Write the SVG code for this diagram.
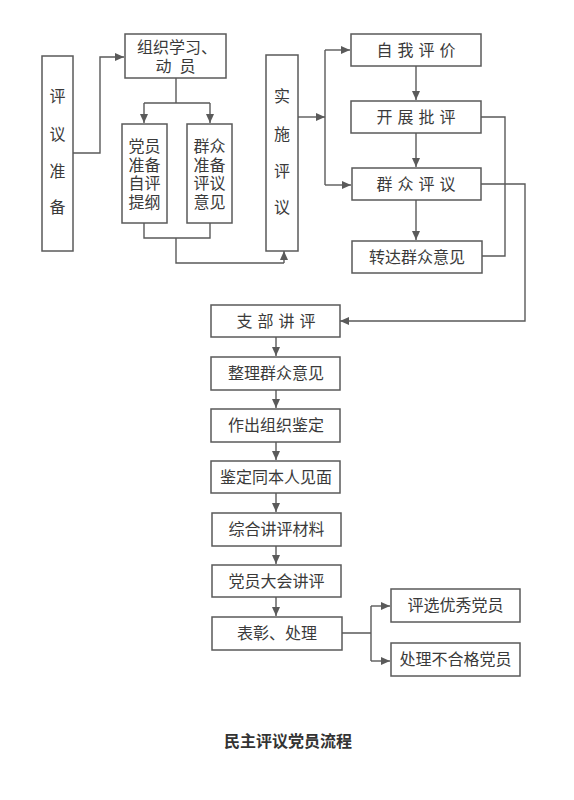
<svg xmlns="http://www.w3.org/2000/svg" width="574" height="800" viewBox="0 0 574 800">
<style>
.box{fill:#fff;stroke:#5a5a5a;stroke-width:1.5}
.t{font-family:"Liberation Serif","Noto Sans CJK SC",serif;font-size:16px;fill:#3a3a3a;text-anchor:middle}
.s{letter-spacing:5px}
.c{fill:none;stroke:#5a5a5a;stroke-width:1.4}
.title{font-family:"Noto Sans CJK SC",sans-serif;font-size:16px;font-weight:bold;fill:#333;text-anchor:middle}
</style>
<defs>
<marker id="ah" markerWidth="9" markerHeight="8" refX="9" refY="4" orient="auto" markerUnits="userSpaceOnUse">
<path d="M0,0 L9,4 L0,8 Z" fill="#5a5a5a"/>
</marker>
</defs>
<rect width="574" height="800" fill="#fff"/>
<g id="connectors">
<path class="c" d="M73,153 H100 V57 H124" marker-end="url(#ah)"/>
<path class="c" d="M176,78 V103 M144,103 H210"/>
<path class="c" d="M144,103 V123" marker-end="url(#ah)"/>
<path class="c" d="M210,103 V123" marker-end="url(#ah)"/>
<path class="c" d="M144,223 V238 H210 V223 M176,238 V263 H284"/>
<path class="c" d="M284,263 V251" marker-end="url(#ah)"/>
<path class="c" d="M298,117 H325" marker-end="url(#ah)"/>
<path class="c" d="M325,50 V185"/>
<path class="c" d="M325,50 H350" marker-end="url(#ah)"/>
<path class="c" d="M325,185 H351" marker-end="url(#ah)"/>
<path class="c" d="M416,66 V100" marker-end="url(#ah)"/>
<path class="c" d="M416,133 V167" marker-end="url(#ah)"/>
<path class="c" d="M416,200 V240" marker-end="url(#ah)"/>
<path class="c" d="M481,117 H505 V256 H482"/>
<path class="c" d="M481,184 H525 V321 H340" marker-end="url(#ah)"/>
<path class="c" d="M276,337 V356" marker-end="url(#ah)"/>
<path class="c" d="M276,390 V408" marker-end="url(#ah)"/>
<path class="c" d="M276,442 V460" marker-end="url(#ah)"/>
<path class="c" d="M276,493 V512" marker-end="url(#ah)"/>
<path class="c" d="M276,546 V564" marker-end="url(#ah)"/>
<path class="c" d="M276,597 V616" marker-end="url(#ah)"/>
<path class="c" d="M342,633 H371 M371,606 V661"/>
<path class="c" d="M371,606 H390" marker-end="url(#ah)"/>
<path class="c" d="M371,661 H390" marker-end="url(#ah)"/>
</g>
<g id="n-pingyizhunbei">
<rect class="box" x="42" y="56" width="31" height="195"/>
<text class="t" x="57.5" y="102">评</text>
<text class="t" x="57.5" y="140">议</text>
<text class="t" x="57.5" y="177">准</text>
<text class="t" x="57.5" y="213">备</text>
</g>
<g id="n-zuzhixuexi">
<rect class="box" x="125" y="34" width="101" height="44"/>
<text class="t" x="177" y="53">组织学习、</text>
<text class="t" x="175.5" y="72" xml:space="preserve">动  员</text>
</g>
<g id="n-dangyuan">
<rect class="box" x="122" y="124" width="45" height="99"/>
<text class="t" x="144.5" y="152">党员</text>
<text class="t" x="144.5" y="171">准备</text>
<text class="t" x="144.5" y="189">自评</text>
<text class="t" x="144.5" y="208">提纲</text>
</g>
<g id="n-qunzhong">
<rect class="box" x="187" y="124" width="45" height="99"/>
<text class="t" x="209.5" y="152">群众</text>
<text class="t" x="209.5" y="171">准备</text>
<text class="t" x="209.5" y="189">评议</text>
<text class="t" x="209.5" y="208">意见</text>
</g>
<g id="n-shishipingyi">
<rect class="box" x="266" y="55" width="32" height="196"/>
<text class="t" x="282" y="102">实</text>
<text class="t" x="282" y="140">施</text>
<text class="t" x="282" y="177">评</text>
<text class="t" x="282" y="213">议</text>
</g>
<g id="n-ziwopingjia">
<rect class="box" x="351" y="34" width="130" height="32"/>
<text class="t s" x="418.5" y="56">自我评价</text>
</g>
<g id="n-kaizhanpiping">
<rect class="box" x="351" y="101" width="130" height="32"/>
<text class="t s" x="418.5" y="123">开展批评</text>
</g>
<g id="n-qunzhongpingyi">
<rect class="box" x="352" y="168" width="129" height="32"/>
<text class="t s" x="418.5" y="190">群众评议</text>
</g>
<g id="n-zhuanda">
<rect class="box" x="352" y="241" width="130" height="32"/>
<text class="t" x="417" y="263">转达群众意见</text>
</g>
<g id="n-zhibu">
<rect class="box" x="211" y="305" width="129" height="32"/>
<text class="t s" x="278.5" y="327">支部讲评</text>
</g>
<g id="n-zhengli">
<rect class="box" x="211" y="357" width="129" height="33"/>
<text class="t" x="276" y="379">整理群众意见</text>
</g>
<g id="n-zuochu">
<rect class="box" x="211" y="409" width="129" height="33"/>
<text class="t" x="276" y="431">作出组织鉴定</text>
</g>
<g id="n-jianding">
<rect class="box" x="211" y="461" width="129" height="32"/>
<text class="t" x="276" y="483">鉴定同本人见面</text>
</g>
<g id="n-zonghe">
<rect class="box" x="212" y="513" width="129" height="33"/>
<text class="t" x="276.5" y="535">综合讲评材料</text>
</g>
<g id="n-dahui">
<rect class="box" x="212" y="565" width="129" height="32"/>
<text class="t" x="276.5" y="587">党员大会讲评</text>
</g>
<g id="n-biaozhang">
<rect class="box" x="212" y="617" width="130" height="33"/>
<text class="t" x="277" y="639">表彰、处理</text>
</g>
<g id="n-pingxuan">
<rect class="box" x="391" y="589" width="129" height="33"/>
<text class="t" x="455.5" y="611">评选优秀党员</text>
</g>
<g id="n-chuli">
<rect class="box" x="391" y="643" width="129" height="33"/>
<text class="t" x="455.5" y="665">处理不合格党员</text>
</g>
<text class="title" x="288" y="747">民主评议党员流程</text>
</svg>
